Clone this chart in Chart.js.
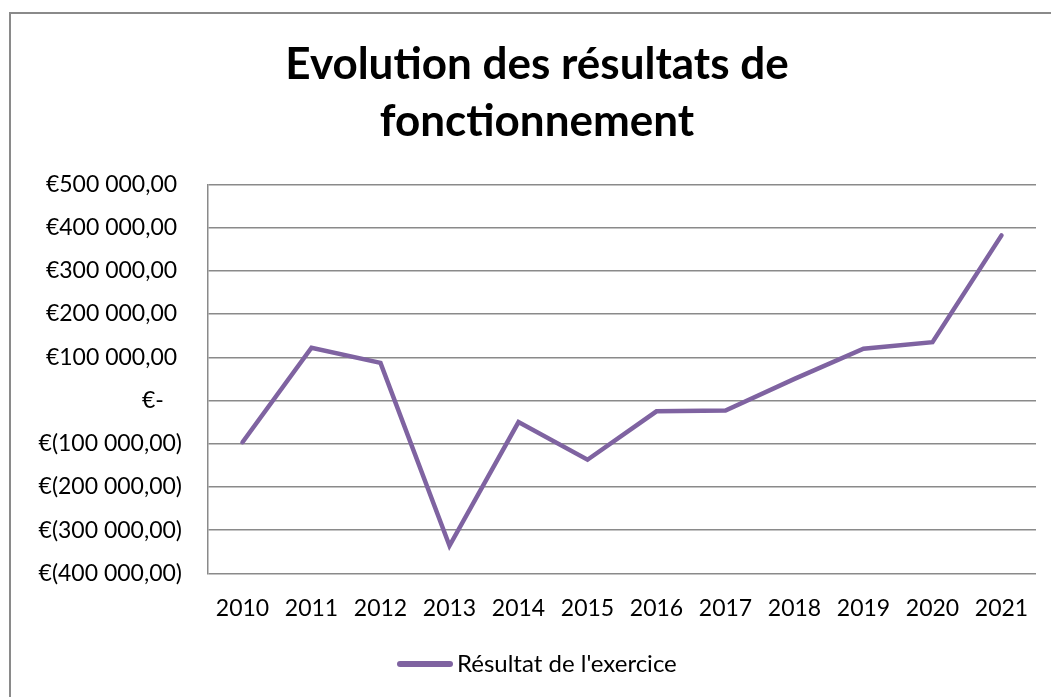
<!DOCTYPE html>
<html>
<head>
<meta charset="utf-8">
<script src="https://cdn.jsdelivr.net/npm/chart.js@4/dist/chart.umd.min.js"></script>
<style>
  html, body { margin: 0; padding: 0; background: #fff; }
  #wrap { position: relative; width: 1051px; height: 697px; overflow: hidden; }
  #frame { position: absolute; left: 9px; top: 12px; width: 1100px; height: 760px; border: 2px solid #8a8a8a; }
  #chart { position: absolute; left: 0; top: 0; }
  #legend { position: absolute; left: 397px; top: 648px; font: 24px/30px Lato, sans-serif; color: #000; white-space: nowrap; }
  #legend .swatch { display: inline-block; width: 56px; height: 6px; border-radius: 3px; background: #7F63A1; vertical-align: middle; margin-right: 4px; position: relative; top: -2px; }
</style>
</head>
<body>
<div id="wrap">
  <div id="frame"></div>
  <canvas id="chart" width="1051" height="697"></canvas>
  <div id="legend"><span class="swatch"></span>Résultat de l'exercice</div>
</div>
<script>
var years = ["2010", "2011", "2012", "2013", "2014", "2015", "2016", "2017", "2018", "2019", "2020", "2021"];
var resultats = [-96500, 122000, 87000, -336000, -50000, -137000, -25000, -23000, 50000, 120000, 135000, 382000];
var seriesName = "Résultat de l'exercice";
var titleLines = ["Evolution des résultats de", "fonctionnement"];

// format comptable : €500 000,00 / €(100 000,00) / €-
function formatEuro(v) {
  if (v === 0) return "€-\u2007\u2008";
  var s = Math.abs(v).toFixed(0).replace(/\B(?=(\d{3})+(?!\d))/g, " ") + ",00";
  return v < 0 ? "€(" + s + ")" : "€" + s + "\u2008";
}

new Chart(document.getElementById("chart"), {
  type: 'line',
  data: {
    labels: years,
    datasets: [
      {
        label: seriesName,
        data: resultats,
        borderColor: "#7F63A1",
        backgroundColor: "#7F63A1",
        borderWidth: 4.5,
        borderCapStyle: 'round',
        pointRadius: 0,
        tension: 0
      }
    ]
  },
  options: {
    responsive: false,
    animation: false,
    layout: {
      padding: { left: 38, right: 15, top: 22, bottom: 54 }
    },
    plugins: {
      legend: { display: false },
      tooltip: { enabled: false },
      title: {
        display: true,
        text: titleLines,
        color: '#000',
        font: { family: 'Lato', size: 44, weight: 'bold', lineHeight: 1.3 },
        padding: { top: 14, bottom: 34 }
      }
    },
    scales: {
      x: {
        offset: true,
        grid: { display: false, drawTicks: false },
        border: { display: false },
        ticks: {
          color: '#000',
          font: { family: 'Lato', size: 23 },
          padding: 21,
          maxRotation: 0
        }
      },
      y: {
        min: -400000,
        max: 500000,
        afterFit: function(axis) { axis.width = 170; },
        grid: { color: '#8a8a8a', lineWidth: 1.5, drawTicks: false },
        border: { display: true, color: '#8a8a8a', width: 1.5 },
        ticks: {
          stepSize: 100000,
          color: '#000',
          font: { family: 'Lato', size: 23 },
          padding: 26,
          callback: function(value) { return formatEuro(value); }
        }
      }
    }
  }
});
</script>
</body>
</html>
